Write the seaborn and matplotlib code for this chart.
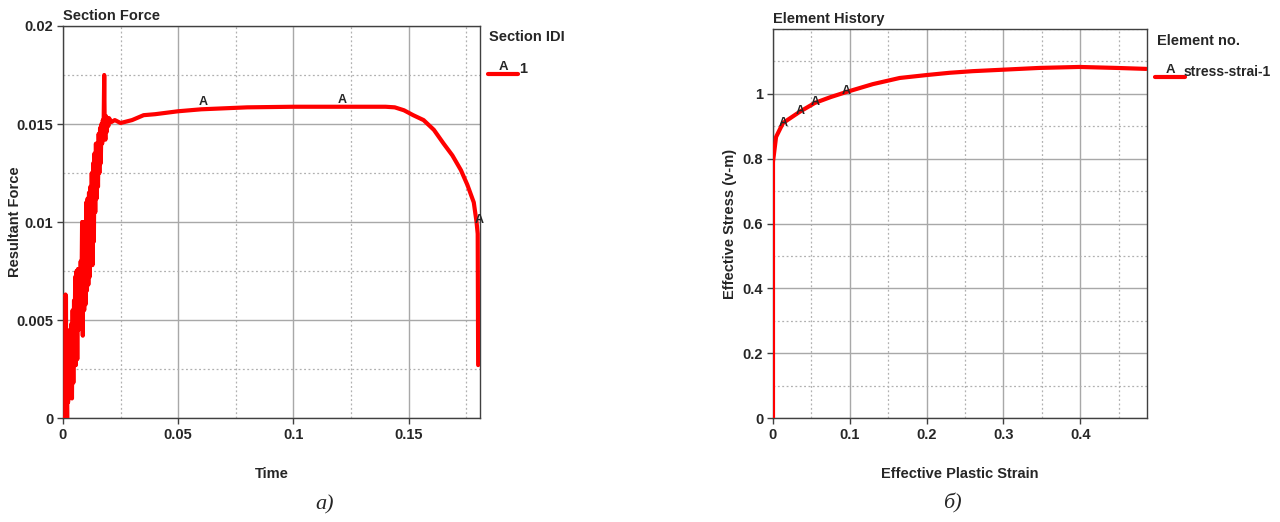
import numpy as np
import pandas as pd
import matplotlib
matplotlib.use("Agg")
import matplotlib.pyplot as plt
from matplotlib.ticker import MultipleLocator
import seaborn as sns

# section force (left panel)
time = [0, 0.001, 0.0011, 0.0013, 0.0014, 0.0016, 0.0018, 0.002, 0.0022, 0.0025,
        0.0028, 0.003, 0.0033, 0.0036, 0.0039, 0.0042, 0.0045, 0.0048, 0.005, 0.0053,
        0.0056, 0.0059, 0.0062, 0.0065, 0.0068, 0.0071, 0.0074, 0.0077, 0.008, 0.0083,
        0.0086, 0.0089, 0.0092, 0.0095, 0.0098, 0.0101, 0.0104, 0.0107, 0.011, 0.0113,
        0.0116, 0.0119, 0.0122, 0.0125, 0.0128, 0.0131, 0.0134, 0.0137, 0.014, 0.0143,
        0.0146, 0.0149, 0.0152, 0.0155, 0.0158, 0.0161, 0.0164, 0.0167, 0.017, 0.0173,
        0.0176, 0.0179, 0.0181, 0.0184, 0.0187, 0.019, 0.0193, 0.0197, 0.02, 0.021,
        0.0225, 0.025, 0.03, 0.035, 0.04, 0.05, 0.06, 0.07, 0.08, 0.1,
        0.12, 0.14, 0.144, 0.148, 0.152, 0.1565, 0.161, 0.1652, 0.169, 0.1727,
        0.1755, 0.1783, 0.1795, 0.180, 0.1802]
force = [0, 0.0, 0.0063, 0.0062, 0.0001, 0.0018, 0.0, 0.0035, 0.0008, 0.0030,
         0.0010, 0.0045, 0.0012, 0.0048, 0.0010, 0.0055, 0.0018, 0.0060, 0.0027, 0.0072,
         0.0027, 0.0075, 0.0030, 0.0076, 0.0045, 0.0076, 0.0055, 0.0080, 0.0060, 0.0100,
         0.0042, 0.0100, 0.0055, 0.0095, 0.0058, 0.0110, 0.0065, 0.0112, 0.0068, 0.0115,
         0.0072, 0.0118, 0.0088, 0.0125, 0.0078, 0.0130, 0.0090, 0.0135, 0.0105, 0.0140,
         0.0112, 0.0140, 0.0118, 0.0145, 0.0125, 0.0148, 0.0130, 0.0150, 0.0140, 0.0152,
         0.0145, 0.0175, 0.0150, 0.0142, 0.0154, 0.0146, 0.0153, 0.0149, 0.0153, 0.0151,
         0.0152, 0.01505, 0.0152, 0.01545, 0.0155, 0.01565, 0.01575, 0.0158, 0.01585, 0.01588,
         0.01588, 0.01588, 0.01585, 0.0157, 0.01545, 0.0152, 0.0147, 0.0140, 0.0134, 0.01265,
         0.0119, 0.0110, 0.0100, 0.0094, 0.0027]
force_marks_t = [0.061, 0.121, 0.1805]
force_marks_v = [0.0158, 0.01590, 0.0098]

# element history (right panel)
strain = [0, 0.0, 0.004, 0.013, 0.035, 0.0545, 0.075, 0.096, 0.13, 0.165,
          0.2, 0.23, 0.26, 0.295, 0.347, 0.399, 0.447, 0.486]
stress = [0, 0.79, 0.867, 0.91, 0.945, 0.972, 0.99, 1.006, 1.03, 1.049,
          1.058, 1.065, 1.07, 1.074, 1.08, 1.083, 1.08, 1.077]
stress_marks_x = [0.013, 0.035, 0.055, 0.095]
stress_marks_y = [0.91, 0.948, 0.975, 1.008]

sns.set_style("white")
plt.rcParams["font.family"] = ["Liberation Sans", "DejaVu Sans"]
plt.rcParams["font.weight"] = "bold"

df1 = pd.DataFrame({"Time": time, "Force": force})
df2 = pd.DataFrame({"Strain": strain, "Stress": stress})

fig = plt.figure(figsize=(12.8, 5.22), dpi=100)
ax1 = fig.add_axes([0.0492, 0.1992, 0.3258, 0.751])
ax2 = fig.add_axes([0.6039, 0.1992, 0.2922, 0.7452])

RED = "#ff0000"
sns.lineplot(data=df1, x="Time", y="Force", ax=ax1, sort=False, estimator=None,
             color=RED, lw=3, zorder=3)
sns.lineplot(data=df2, x="Strain", y="Stress", ax=ax2, sort=False, estimator=None,
             color=RED, lw=3, zorder=3)

for t, v in zip(force_marks_t, force_marks_v):
    ax1.text(t, v, "A", fontsize=9, ha="center", va="bottom", zorder=4)
for x, y in zip(stress_marks_x, stress_marks_y):
    ax2.text(x, y, "A", fontsize=9, ha="center", va="center", zorder=4)


def style(ax, xlim, ylim, xmaj, ymaj, xlabels, ylabels):
    ax.set_xlim(*xlim)
    ax.set_ylim(*ylim)
    ax.xaxis.set_major_locator(MultipleLocator(xmaj))
    ax.yaxis.set_major_locator(MultipleLocator(ymaj))
    ax.xaxis.set_minor_locator(MultipleLocator(xmaj / 2))
    ax.yaxis.set_minor_locator(MultipleLocator(ymaj / 2))
    ax.grid(which="major", color="#a8a8a8", lw=1.0, ls="-")
    ax.grid(which="minor", color="#b0b0b0", lw=0.9, ls=(0, (1.5, 2)))
    ax.set_axisbelow(True)
    ax.tick_params(which="major", direction="out", length=4, width=1,
                   color="#404040", labelsize=10.5, pad=3,
                   bottom=True, left=True)
    ax.tick_params(which="minor", length=0)
    ax.set_xticks([i * xmaj for i in range(len(xlabels))], xlabels)
    ax.set_yticks([i * ymaj for i in range(len(ylabels))], ylabels)
    for s in ax.spines.values():
        s.set_color("#404040")
        s.set_linewidth(1.0)
    for lab in ax.get_xticklabels() + ax.get_yticklabels():
        lab.set_fontweight("bold")


style(ax1, (0, 0.181), (0, 0.02), 0.05, 0.005,
      ["0", "0.05", "0.1", "0.15"], ["0", "0.005", "0.01", "0.015", "0.02"])
style(ax2, (0, 0.487), (0, 1.2), 0.1, 0.2,
      ["0", "0.1", "0.2", "0.3", "0.4"], ["0", "0.2", "0.4", "0.6", "0.8", "1"])

ax1.set_xlabel("Time", fontsize=10.5, fontweight="bold", labelpad=18)
ax1.set_ylabel("Resultant Force", fontsize=10.5, fontweight="bold")
ax1.yaxis.set_label_coords(-0.098, 0.5)
ax2.set_xlabel("Effective Plastic Strain", fontsize=10.5, fontweight="bold", labelpad=18)
ax2.set_ylabel("Effective Stress (v-m)", fontsize=10.5, fontweight="bold")
ax2.yaxis.set_label_coords(-0.096, 0.5)

ax1.set_title("Section Force", fontsize=10.5, fontweight="bold", loc="left", pad=4)
ax2.set_title("Element History", fontsize=10.5, fontweight="bold", loc="left", pad=4)

# legends drawn as in the LS-PrePost style
fig.text(489 / 1280, 1 - 37 / 522, "Section IDI", fontsize=10.5, fontweight="bold", va="center")
fig.add_artist(plt.Line2D([488 / 1280, 518 / 1280], [1 - 74 / 522] * 2, color=RED, lw=3))
fig.text(503 / 1280, 1 - 73 / 522, "A", fontsize=9.5, fontweight="bold", ha="center", va="bottom")
fig.text(519 / 1280, 1 - 69 / 522, "1", fontsize=10.5, fontweight="bold", va="center")

fig.text(1157 / 1280, 1 - 41 / 522, "Element no.", fontsize=10.5, fontweight="bold", va="center")
fig.add_artist(plt.Line2D([1155 / 1280, 1185 / 1280], [1 - 77 / 522] * 2, color=RED, lw=3))
fig.text(1170 / 1280, 1 - 76 / 522, "A", fontsize=9.5, fontweight="bold", ha="center", va="bottom")
fig.text(1184 / 1280, 1 - 72 / 522, "stress-strai-1", fontsize=10, fontweight="bold", va="center")

fig.text(325 / 1280, 1 - 505 / 522, "а)", fontsize=16, style="italic", fontweight="normal",
         family=["Liberation Serif", "DejaVu Serif"], ha="center", va="center")
fig.text(952 / 1280, 1 - 503 / 522, "б)", fontsize=16, style="italic", fontweight="normal",
         family=["Liberation Serif", "DejaVu Serif"], ha="center", va="center")

fig.savefig("out.png", dpi=100, facecolor="white")
